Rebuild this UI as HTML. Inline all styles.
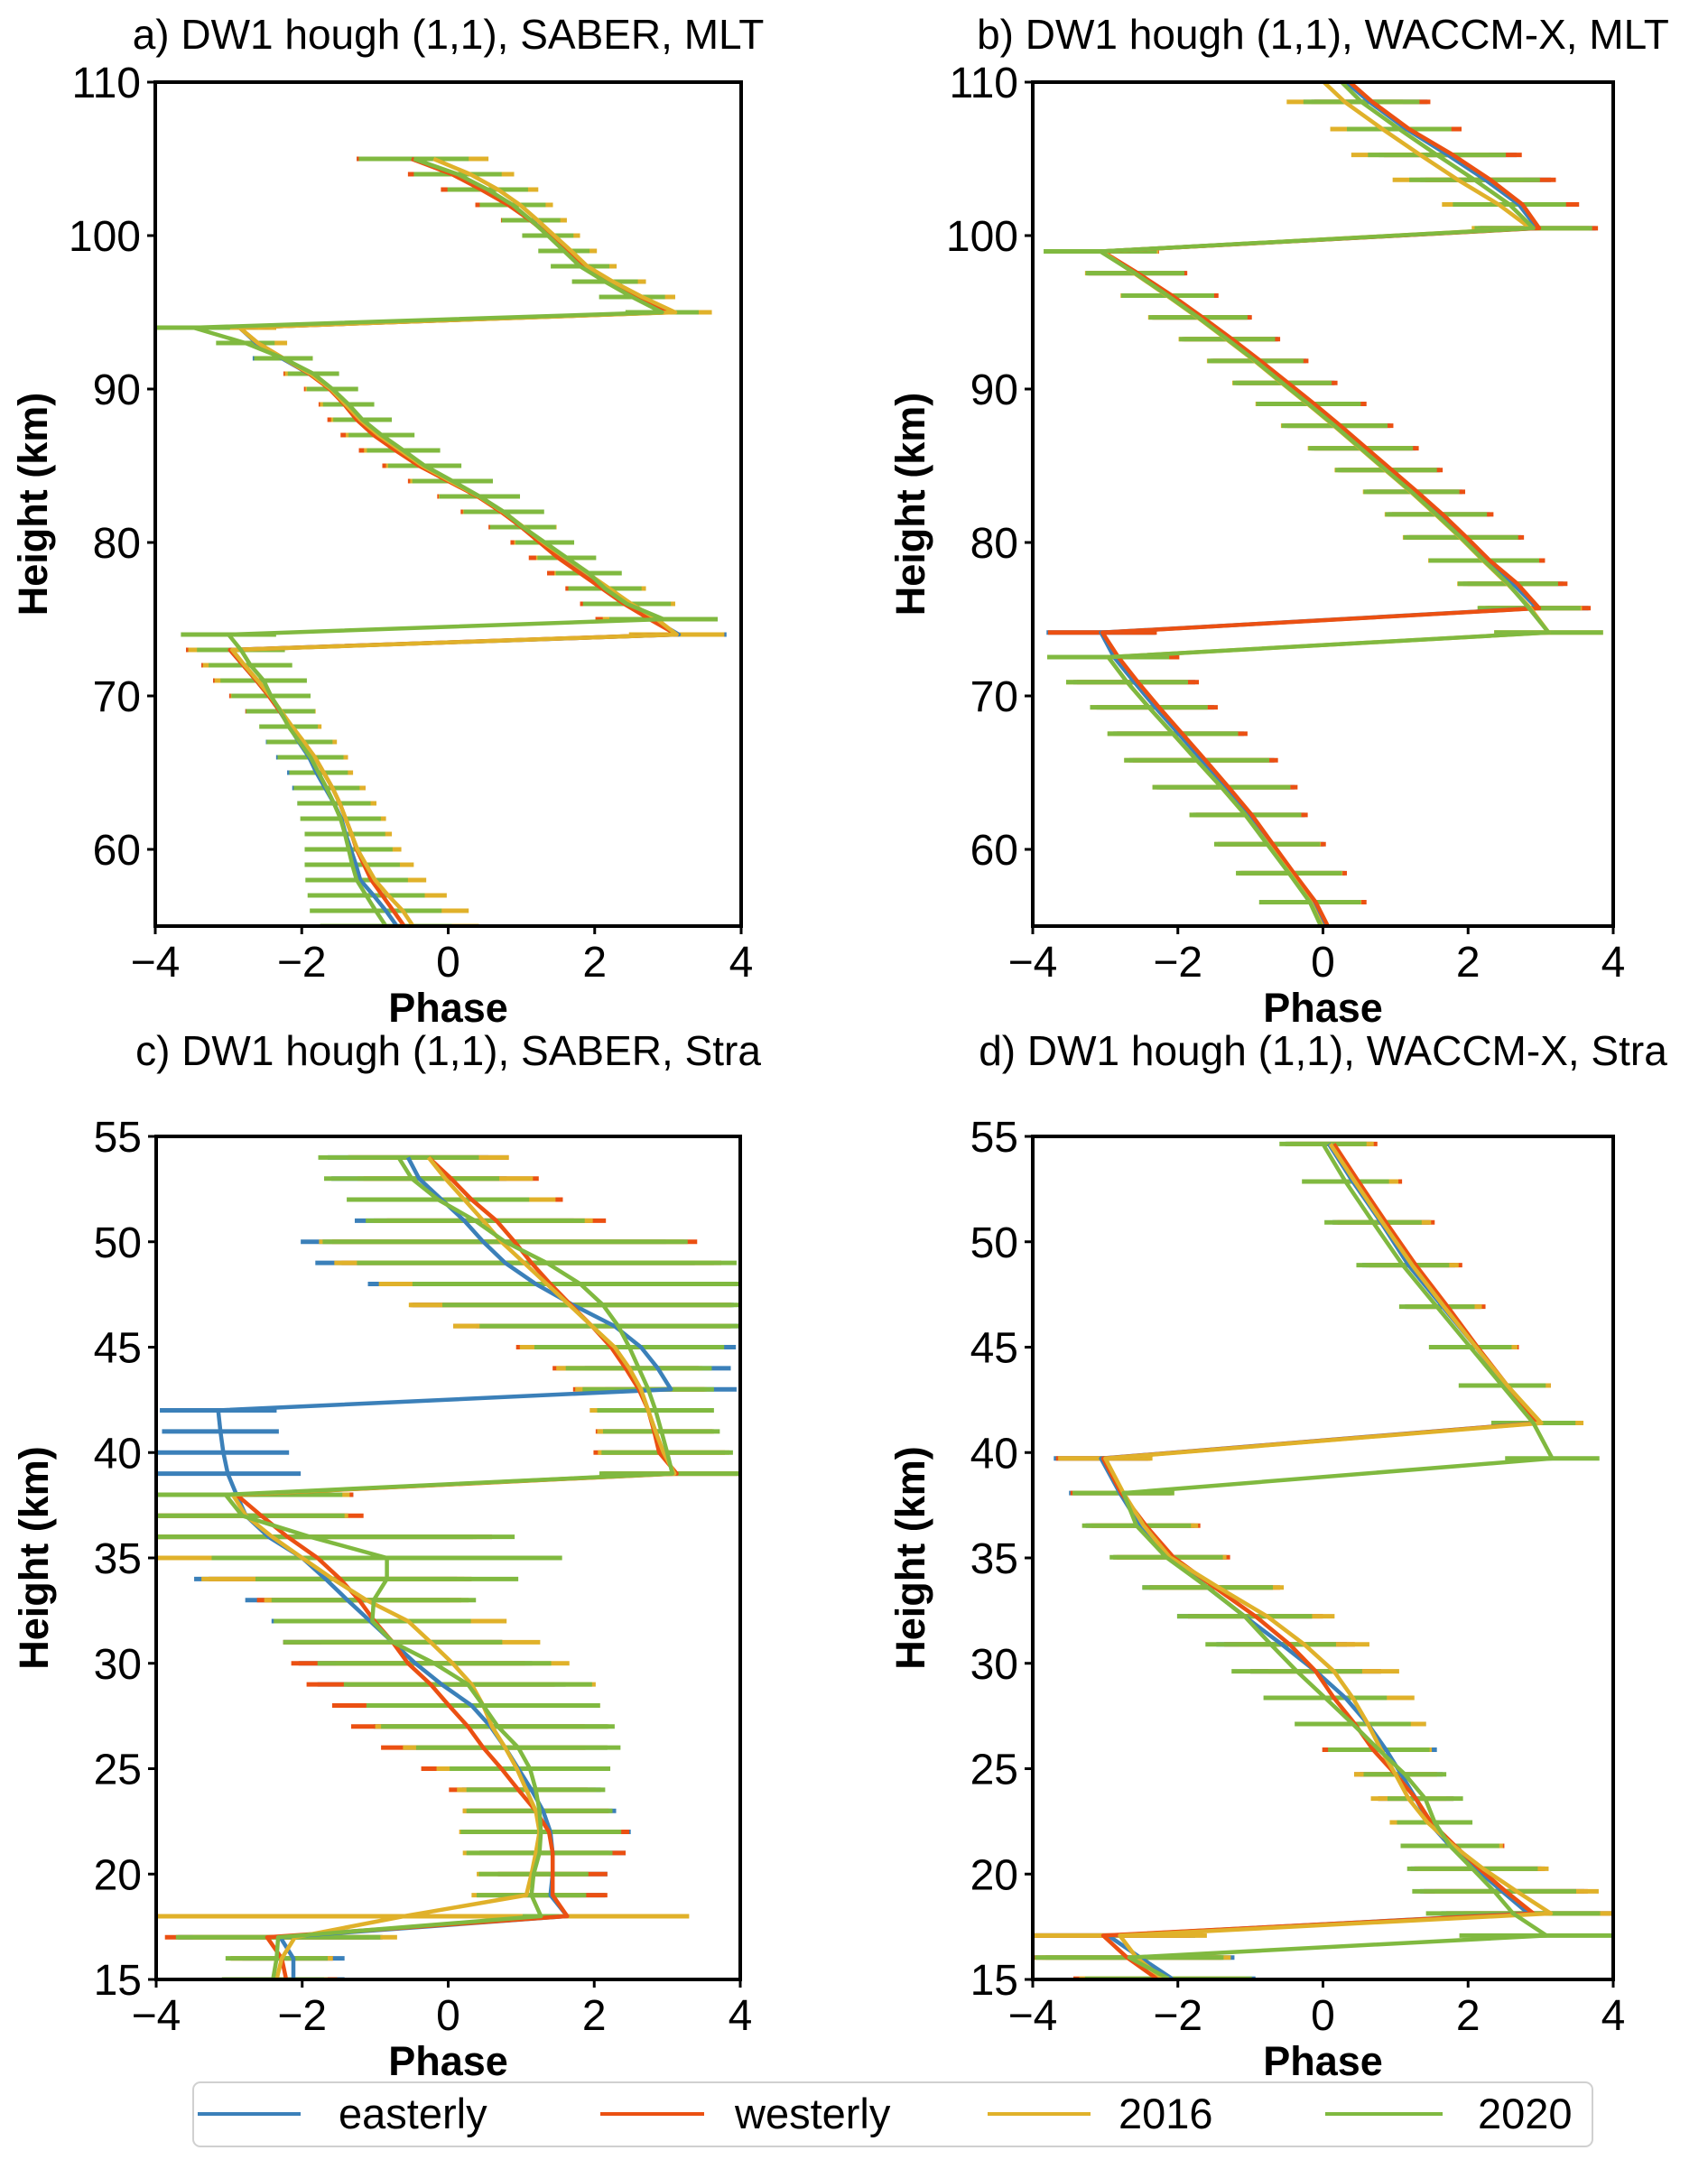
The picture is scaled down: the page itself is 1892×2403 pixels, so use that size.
<!DOCTYPE html>
<html><head><meta charset="utf-8"><style>
html,body{margin:0;padding:0;background:#fff}
svg{display:block}
text{font-family:"Liberation Sans",Arial,sans-serif;fill:#000}
</style></head>
<body>
<svg id="fig" xmlns="http://www.w3.org/2000/svg" width="1892" height="2403" viewBox="0 0 1892 2403">
<rect width="1892" height="2403" fill="#fff"/>
<g id="legend">
<rect x="214" y="2307" width="1550" height="71" rx="8" fill="#fff" stroke="#d0d0d0" stroke-width="2"/>
<g><line x1="219" y1="2342" x2="333" y2="2342" stroke="#3b80b9" stroke-width="4"/><text x="375" y="2358" font-size="47">easterly</text></g>
<g><line x1="665" y1="2342" x2="780" y2="2342" stroke="#eb5012" stroke-width="4"/><text x="814" y="2358" font-size="47">westerly</text></g>
<g><line x1="1094" y1="2342" x2="1208" y2="2342" stroke="#e0b12a" stroke-width="4"/><text x="1239" y="2358" font-size="47">2016</text></g>
<g><line x1="1468" y1="2342" x2="1598" y2="2342" stroke="#80b940" stroke-width="4"/><text x="1637" y="2358" font-size="47">2020</text></g>
</g>
</svg>
<script>
// ---------- Panel a: SABER MLT ----------
const heightsA = [105,104,103,102,101,100,99,98,97,96,95,94,93,92,91,90,89,88,87,86,85,84,83,82,81,80,79,78,77,76,75,74,73,72,71,70,69,68,67,66,65,64,63,62,61,60,59,58,57,56,55];
const easterlyA = [-0.5,0.1,0.5,0.85,1.13,1.38,1.6,1.83,2.18,2.56,3.05,-2.85,-2.62,-2.27,-1.9,-1.6,-1.38,-1.2,-0.95,-0.66,-0.36,0.03,0.42,0.74,1.02,1.3,1.58,1.88,2.16,2.48,2.8,3.15,-2.98,-2.8,-2.62,-2.45,-2.3,-2.17,-2.04,-1.9,-1.8,-1.68,-1.56,-1.46,-1.4,-1.33,-1.26,-1.2,-1.02,-0.85,-0.7];
const westerlyA = [-0.5,0.05,0.45,0.82,1.12,1.38,1.62,1.85,2.2,2.6,3.05,-2.85,-2.6,-2.25,-1.9,-1.62,-1.42,-1.25,-1.02,-0.72,-0.4,0.0,0.4,0.72,1.0,1.25,1.5,1.8,2.1,2.4,2.75,3.12,-2.98,-2.8,-2.62,-2.45,-2.3,-2.15,-1.98,-1.82,-1.7,-1.58,-1.48,-1.4,-1.32,-1.25,-1.15,-1.05,-0.9,-0.75,-0.6];
const y2016A = [-0.2,0.3,0.68,0.98,1.22,1.45,1.68,1.9,2.25,2.65,3.1,-2.85,-2.6,-2.25,-1.88,-1.6,-1.4,-1.2,-0.95,-0.65,-0.35,0.03,0.42,0.75,1.03,1.3,1.6,1.9,2.2,2.5,2.85,3.12,-2.95,-2.78,-2.6,-2.43,-2.28,-2.13,-1.97,-1.82,-1.7,-1.58,-1.48,-1.4,-1.32,-1.24,-1.12,-1.0,-0.82,-0.62,-0.48];
const y2020A = [-0.47,0.13,0.54,0.88,1.13,1.36,1.58,1.8,2.14,2.51,2.92,-3.48,-2.77,-2.25,-1.84,-1.58,-1.36,-1.17,-0.91,-0.61,-0.32,0.06,0.43,0.76,1.02,1.32,1.62,1.92,2.14,2.44,2.94,-3.0,-2.83,-2.7,-2.52,-2.42,-2.29,-2.18,-2.03,-1.88,-1.77,-1.66,-1.56,-1.47,-1.41,-1.36,-1.31,-1.25,-1.12,-0.99,-0.85];
const errA = [0.75,0.6,0.55,0.45,0.4,0.35,0.35,0.4,0.45,0.45,0.5,0.5,0.4,0.4,0.35,0.35,0.35,0.4,0.45,0.5,0.5,0.55,0.55,0.55,0.45,0.4,0.4,0.45,0.5,0.6,0.74,0.65,0.6,0.57,0.59,0.54,0.47,0.4,0.45,0.45,0.4,0.45,0.5,0.55,0.55,0.6,0.65,0.7,0.8,0.9,0.9];

// ---------- Panel b: WACCM-X MLT ----------
const heightsB = [110.5,108.71,106.94,105.26,103.63,102.03,100.48,98.97,97.55,96.09,94.67,93.25,91.83,90.4,89.03,87.61,86.14,84.72,83.3,81.83,80.33,78.82,77.31,75.72,74.13,72.53,70.9,69.26,67.54,65.81,64.05,62.24,60.34,58.45,56.56,54.7];
const easterlyB = [0.2,0.64,1.15,1.72,2.24,2.7,2.95,-3.05,-2.57,-2.1,-1.68,-1.28,-0.89,-0.52,-0.16,0.2,0.56,0.91,1.26,1.6,1.94,2.26,2.62,2.95,-3.06,-2.88,-2.6,-2.31,-1.99,-1.67,-1.34,-1.02,-0.72,-0.43,-0.14,0.05];
const westerlyB = [0.25,0.68,1.19,1.79,2.31,2.75,2.98,-3.04,-2.55,-2.08,-1.66,-1.25,-0.86,-0.48,-0.12,0.24,0.6,0.95,1.3,1.65,1.98,2.3,2.68,2.98,-3.04,-2.82,-2.55,-2.26,-1.94,-1.62,-1.3,-0.98,-0.69,-0.4,-0.1,0.1];
const y2016B = [-0.1,0.3,0.82,1.34,1.86,2.42,2.86,-3.05,-2.6,-2.15,-1.73,-1.33,-0.94,-0.57,-0.21,0.15,0.51,0.86,1.21,1.55,1.89,2.21,2.54,2.86,3.11,-2.96,-2.7,-2.4,-2.07,-1.74,-1.4,-1.07,-0.76,-0.46,-0.17,0.02];
const y2020B = [0.15,0.53,1.05,1.57,2.09,2.57,2.9,-3.07,-2.59,-2.14,-1.72,-1.32,-0.93,-0.56,-0.2,0.16,0.52,0.87,1.22,1.56,1.9,2.22,2.55,2.84,3.11,-2.96,-2.7,-2.4,-2.07,-1.74,-1.4,-1.07,-0.77,-0.47,-0.18,0.0];
const errB = [0,0.8,0.72,0.95,0.9,0.78,0.81,0.78,0.68,0.64,0.68,0.66,0.66,0.68,0.72,0.73,0.72,0.7,0.66,0.7,0.79,0.76,0.69,0.71,0.75,0.84,0.84,0.81,0.9,1.0,0.95,0.77,0.73,0.73,0.7,0];

// ---------- Panel c: SABER Stratosphere ----------
const heightsC = [54,53,52,51,50,49,48,47,46,45,44,43,42,41,40,39,38,37,36,35,34,33,32,31,30,29,28,27,26,25,24,23,22,21,20,19,18,17,16,15];
const easterlyC = [-0.55,-0.4,-0.09,0.22,0.48,0.78,1.2,1.71,2.28,2.64,2.87,3.05,-3.15,-3.12,-3.08,-3.02,-2.9,-2.77,-2.46,-2.0,-1.68,-1.38,-1.07,-0.76,-0.45,-0.09,0.32,0.58,0.78,0.96,1.14,1.3,1.4,1.43,1.43,1.4,1.63,-2.3,-2.12,-2.12];
const westerlyC = [-0.27,0.04,0.32,0.66,0.91,1.14,1.4,1.68,1.97,2.23,2.43,2.61,2.74,2.82,2.89,3.13,-2.9,-2.56,-2.2,-1.79,-1.48,-1.22,-1.01,-0.76,-0.55,-0.24,0.01,0.27,0.48,0.73,0.96,1.2,1.38,1.43,1.43,1.43,1.63,-2.48,-2.28,-2.22];
const y2016C = [-0.27,-0.04,0.22,0.48,0.73,1.04,1.35,1.66,1.97,2.28,2.48,2.64,2.74,2.84,2.95,3.1,-2.95,-2.77,-2.41,-2.0,-1.58,-1.12,-0.55,-0.24,0.06,0.32,0.48,0.6,0.78,0.94,1.07,1.2,1.25,1.2,1.14,1.07,-0.6,-2.1,-2.28,-2.35];
const y2020C = [-0.68,-0.5,-0.14,0.37,0.78,1.35,1.81,2.12,2.33,2.48,2.61,2.74,2.84,2.92,3.0,3.07,-3.05,-2.82,-1.89,-0.84,-0.84,-1.02,-1.04,-0.76,-0.19,0.27,0.48,0.68,0.96,1.12,1.2,1.25,1.27,1.25,1.17,1.14,1.27,-2.33,-2.35,-2.4];
const errC = [1.1,1.2,1.25,1.5,2.5,2.6,2.3,2.2,1.9,1.3,1.0,0.9,0.8,0.8,0.9,1.0,1.6,1.4,2.8,2.4,1.8,1.4,1.35,1.5,1.6,1.7,1.6,1.6,1.4,1.1,0.95,1.0,1.1,1.0,0.75,0.75,0.25,1.4,0.7,0.7];
const errC2016 = [1.1,1.2,1.25,1.5,2.5,2.6,2.3,2.2,1.9,1.3,1.0,0.9,0.8,0.8,0.9,1.0,1.6,1.4,2.8,2.4,1.8,1.4,1.35,1.5,1.6,1.7,1.6,1.6,1.4,1.1,0.95,1.0,1.1,1.0,0.75,0.75,3.9,1.4,0.7,0.7];

// ---------- Panel d: WACCM-X Stratosphere ----------
const heightsD = [54.64,52.86,50.92,48.89,46.92,45.0,43.18,41.4,39.72,38.08,36.53,35.03,33.6,32.23,30.9,29.62,28.36,27.12,25.9,24.73,23.58,22.45,21.34,20.25,19.18,18.13,17.08,16.04,15.04];
const easterlyD = [0.08,0.41,0.8,1.18,1.65,2.11,2.52,2.93,-3.06,-2.8,-2.52,-2.11,-1.59,-1.08,-0.57,-0.1,0.31,0.62,0.87,1.08,1.28,1.46,1.75,2.11,2.47,2.83,-2.96,-2.52,-2.08];
const westerlyD = [0.15,0.49,0.87,1.28,1.72,2.13,2.54,2.96,-3.03,-2.78,-2.44,-2.06,-1.49,-0.93,-0.46,-0.1,0.15,0.44,0.69,1.0,1.28,1.49,1.82,2.16,2.52,2.9,-3.03,-2.7,-2.29];
const y2016D = [0.1,0.44,0.82,1.23,1.67,2.11,2.54,3.01,-3.0,-2.75,-2.47,-2.11,-1.44,-0.77,-0.26,0.15,0.41,0.62,0.8,1.0,1.18,1.44,1.8,2.21,2.67,3.14,-2.8,-2.57,-2.21];
const y2020D = [0.0,0.31,0.69,1.1,1.57,2.03,2.47,2.9,3.16,-2.75,-2.57,-2.16,-1.59,-1.08,-0.72,-0.36,0.03,0.41,0.77,1.13,1.41,1.54,1.75,2.06,2.36,2.62,3.08,-2.67,-2.13];
const errD = [0.6,0.6,0.67,0.64,0.52,0.57,0.6,0.58,0.65,0.7,0.75,0.78,0.9,0.93,0.9,0.9,0.85,0.8,0.7,0.57,0.52,0.52,0.68,0.9,1.13,1.2,1.2,1.3,1.15];

const xTicks = [-4,-2,0,2,4];
const yTicksMLT = [60,70,80,90,100,110];
const yTicksStra = [15,20,25,30,35,40,45,50,55];
const seriesNames = ['easterly','westerly','2016','2020'];
const colors = ['#3b80b9','#eb5012','#e0b12a','#80b940'];

const NS = 'http://www.w3.org/2000/svg';
const svg = document.getElementById('fig');
function mk(tag, attrs, parent){
  const e = document.createElementNS(NS, tag);
  for (const k in attrs) e.setAttribute(k, attrs[k]);
  (parent||svg).appendChild(e);
  return e;
}

function panel(id, title, titleY, box, ylim, yTicks, heights, series, errs){
  const [L,T,R,B] = box;
  const g = mk('g', {});
  
  
  const xs = v => L + (v + 4) / 8 * (R - L);
  const ys = v => B - (v - ylim[0]) / (ylim[1] - ylim[0]) * (B - T);
  const clip = mk('clipPath', {id: 'clip-' + id}, g);
  mk('rect', {x: L, y: T, width: R - L, height: B - T}, clip);
  const plot = mk('g', {'clip-path': 'url(#clip-' + id + ')'}, g);
  
  
  series.forEach((vals, si) => {
    const eg = mk('g', {}, plot);
    
    
    const er = errs[si];
    vals.forEach((v, i) => {
      if (!er[i]) return;
      const b = mk('line', {x1: xs(v - er[i]), x2: xs(v + er[i]), y1: ys(heights[i]), y2: ys(heights[i]), stroke: colors[si], 'stroke-width': 5}, eg);
      
      
    });
  });
  series.forEach((vals, si) => {
    const pts = vals.map((v, i) => xs(v).toFixed(1) + ',' + ys(heights[i]).toFixed(1)).join(' ');
    const pl = mk('polyline', {points: pts, fill: 'none', stroke: colors[si], 'stroke-width': 4.5, 'stroke-linejoin': 'round'}, plot);
    
    
  });
  const fr = mk('rect', {x: L, y: T, width: R - L, height: B - T, fill: 'none', stroke: '#000', 'stroke-width': 4}, g);
  
  
  xTicks.forEach(t => {
    const x = xs(t);
    mk('line', {x1: x, x2: x, y1: B, y2: B + 9, stroke: '#000', 'stroke-width': 3}, g);
    const tx = mk('text', {x: x, y: B + 56, 'font-size': 48, 'text-anchor': 'middle'}, g);
    tx.textContent = t < 0 ? '\u2212' + Math.abs(t) : String(t);
    
    
  });
  yTicks.forEach(t => {
    const y = ys(t);
    mk('line', {x1: L - 9, x2: L, y1: y, y2: y, stroke: '#000', 'stroke-width': 3}, g);
    const ty = mk('text', {x: L - 16, y: y + 17, 'font-size': 48, 'text-anchor': 'end'}, g);
    ty.textContent = String(t);
    
    
  });
  const xl = mk('text', {x: (L + R) / 2, y: B + 106, 'font-size': 45, 'font-weight': 'bold', 'text-anchor': 'middle'}, g);
  xl.textContent = 'Phase';
  
  
  const cy = (T + B) / 2;
  const yl = mk('text', {x: L - 120, y: cy, 'font-size': 45, 'font-weight': 'bold', 'text-anchor': 'middle', transform: 'rotate(-90 ' + (L - 120) + ' ' + cy + ')'}, g);
  yl.textContent = 'Height (km)';
  
  
  const tt = mk('text', {x: (L + R) / 2, y: titleY, 'font-size': 46, 'text-anchor': 'middle'}, g);
  tt.textContent = title;
  
  
}

panel('a', 'a) DW1 hough (1,1), SABER, MLT', 54, [172,91,821,1026], [55,110], yTicksMLT, heightsA,
  [easterlyA, westerlyA, y2016A, y2020A], [errA, errA, errA, errA]);
panel('b', 'b) DW1 hough (1,1), WACCM-X, MLT', 54, [1144,91,1787,1026], [55,110], yTicksMLT, heightsB,
  [easterlyB, westerlyB, y2016B, y2020B], [errB, errB, errB, errB]);
panel('c', 'c) DW1 hough (1,1), SABER, Stra', 1180, [173,1259,820,2193], [15,55], yTicksStra, heightsC,
  [easterlyC, westerlyC, y2016C, y2020C], [errC, errC, errC2016, errC]);
panel('d', 'd) DW1 hough (1,1), WACCM-X, Stra', 1180, [1144,1259,1787,2193], [15,55], yTicksStra, heightsD,
  [easterlyD, westerlyD, y2016D, y2020D], [errD, errD, errD, errD]);
</script>
</body></html>
